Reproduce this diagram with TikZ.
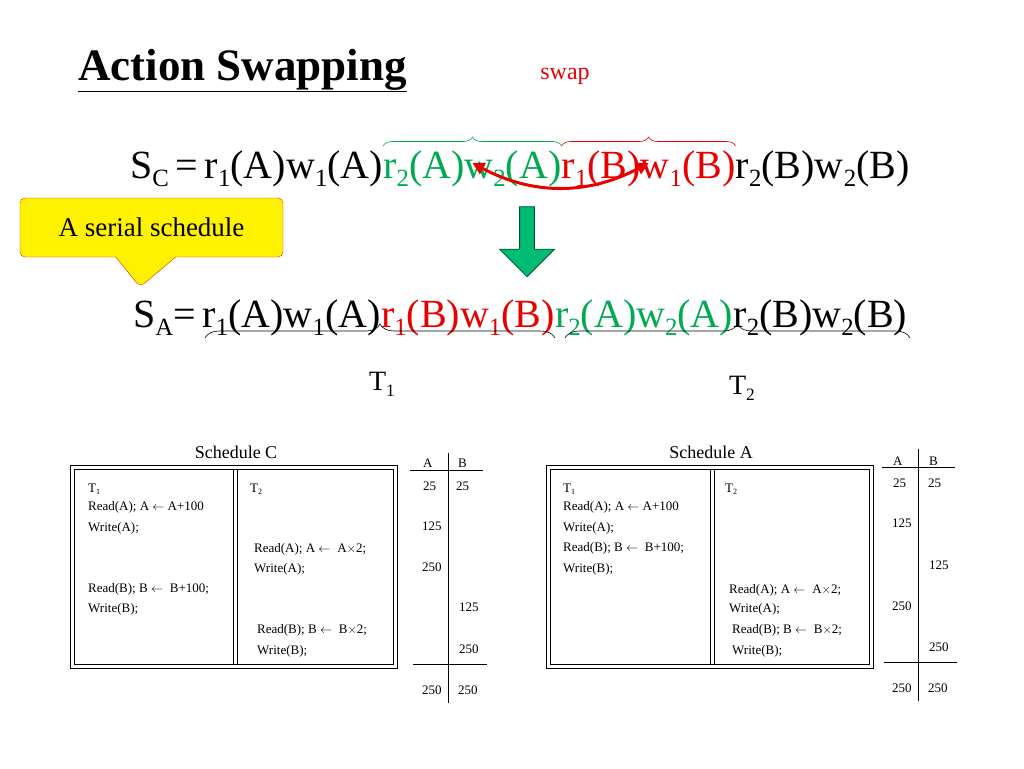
\documentclass[tikz,border=0pt]{standalone}
\usepackage{fontspec}
\setmainfont{Liberation Serif}
\usetikzlibrary{arrows.meta,decorations.pathreplacing,shapes.arrows,shapes.callouts}
\newcommand\sbx[1]{\raisebox{-0.22em}{\scalebox{0.62}{#1}}}
\definecolor{gr}{RGB}{0,170,80}
\definecolor{rd}{RGB}{230,0,0}
\begin{document}
\begin{tikzpicture}[x=1pt,y=-1pt,
  big/.style={inner sep=0pt,anchor=base west,font=\fontsize{40}{44}\selectfont},
  tx/.style={inner sep=0pt,anchor=base west,font=\fontsize{13}{15}\selectfont},
  frame/.style={draw,line width=0.7pt},
  brc/.style={decorate,decoration={brace,amplitude=9pt},line width=0.6pt}]
\useasboundingbox (0,0) rectangle (1024,768);
% title
\node[inner sep=0pt,anchor=base west,font=\fontsize{45}{48}\selectfont\bfseries] (title) at (78,80) {\underline{Action Swapping}};
\node[inner sep=0pt,font=\fontsize{24}{26}\selectfont,text=rd] (swap) at (565,76) {swap};
% row C
\node[big] (c1) at (130,178) {S\sbx{C}\,=\,r\sbx{1}(A)w\sbx{1}(A)};
\node[big,text=gr] (c2) at (c1.base east) {r\sbx{2}(A)w\sbx{2}(A)};
\node[big,text=rd] (c3) at (c2.base east) {r\sbx{1}(B)w\sbx{1}(B)};
\node[big] (c4) at (c3.base east) {r\sbx{2}(B)w\sbx{2}(B)};
\draw[brc,draw=gr] (c2.base west |- 0,146) -- (c2.base east |- 0,146) coordinate[midway,yshift=-14pt] (gm);
\draw[brc,draw=rd] (c3.base west |- 0,146) -- (c3.base east |- 0,146) coordinate[midway,yshift=-14pt] (rm);
\draw[rd,line width=3pt,{Triangle[length=12pt,width=12pt]}-{Triangle[length=12pt,width=12pt]}] ([yshift=-3pt]gm) to[bend right=28] ([yshift=-3pt]rm);
% callout
\node[rectangle callout,callout absolute pointer={(140,287)},callout pointer width=60pt,fill=yellow,draw=rd!70!orange,rounded corners=5pt,
  minimum width=263pt,minimum height=59pt,font=\fontsize{27}{29}\selectfont] (call) at (151.5,227.5) {A serial schedule};
% green arrow
\node[single arrow,shape border rotate=270,fill=gr!80!cyan,draw=gr!50!black,line width=0.8pt,
  minimum width=55pt,single arrow head extend=12pt,minimum height=70pt,single arrow head indent=0pt,inner sep=4pt] (garr) at (527,238) {};
% row A
\node[big] (a1) at (133,327) {S\sbx{A}=\,r\sbx{1}(A)w\sbx{1}(A)};
\node[big,text=rd] (a2) at (a1.base east) {r\sbx{1}(B)w\sbx{1}(B)};
\node[big,text=gr] (a3) at (a2.base east) {r\sbx{2}(A)w\sbx{2}(A)};
\node[big] (a4) at (a3.base east) {r\sbx{2}(B)w\sbx{2}(B)};
\draw[brc,decoration={amplitude=14pt}] (205,338) -- (555,338) coordinate[midway] (b1);
\draw[brc,decoration={amplitude=14pt}] (565,338) -- (910,338) coordinate[midway] (b2);
\node[inner sep=0pt,font=\fontsize{28}{30}\selectfont] (t1) at (382,384) {T\sbx{1}};
\node[inner sep=0pt,font=\fontsize{28}{30}\selectfont] (t2) at (742,388) {T\sbx{2}};
% Schedule C
\node[inner sep=0pt,font=\fontsize{18}{20}\selectfont] (sc) at (236,452) {Schedule C};
\draw[frame] (70,465) rectangle (397,668);
\draw[frame] (74,469) rectangle (393,664);
\draw[frame] (233,469) -- (233,664) (237,469) -- (237,664);
\node[tx] (ct1) at (88,492) {T\sbx{1}};
\node[tx] (ct2) at (250,492) {T\sbx{2}};
\node[tx] (cl1) at (88,510) {Read(A); A $\leftarrow$ A+100};
\node[tx] (cl2) at (88,531) {Write(A);};
\node[tx] (cl3) at (254,552) {Read(A); A $\leftarrow$\; A$\times$2;};
\node[tx] (cl4) at (254,572) {Write(A);};
\node[tx] (cl5) at (88,592) {Read(B); B $\leftarrow$\; B+100;};
\node[tx] (cl6) at (88,612) {Write(B);};
\node[tx] (cl7) at (257,633) {Read(B); B $\leftarrow$\; B$\times$2;};
\node[tx] (cl8) at (257,654) {Write(B);};
\draw[line width=0.7pt] (448,453) coordinate (cv1) -- (448,703) coordinate (cv2);
\draw[line width=0.7pt] (410,470) coordinate (ch1) -- (483,470) coordinate (ch2);
\draw[line width=0.7pt] (413,664) coordinate (ch3) -- (487,664) coordinate (ch4);
\node[tx] (cA) at (423,467) {A};
\node[tx] (cB) at (458,467) {B};
\node[tx] (c25a) at (423,490) {25};
\node[tx] (c25b) at (456,490) {25};
\node[tx] (c125a) at (422,530) {125};
\node[tx] (c250a) at (422,571) {250};
\node[tx] (c125b) at (459,611) {125};
\node[tx] (c250b) at (459,653) {250};
\node[tx] (cfa) at (422,694) {250};
\node[tx] (cfb) at (458,694) {250};
% Schedule A
\node[inner sep=0pt,font=\fontsize{18}{20}\selectfont] (sa) at (711,452) {Schedule A};
\draw[frame] (546,465) rectangle (873,668);
\draw[frame] (550,469) rectangle (869,664);
\draw[frame] (710,469) -- (710,664) (714,469) -- (714,664);
\node[tx] (at1) at (563,492) {T\sbx{1}};
\node[tx] (at2) at (725,492) {T\sbx{2}};
\node[tx] (al1) at (563,510) {Read(A); A $\leftarrow$ A+100};
\node[tx] (al2) at (563,531) {Write(A);};
\node[tx] (al3) at (563,551) {Read(B); B $\leftarrow$\; B+100;};
\node[tx] (al4) at (563,572) {Write(B);};
\node[tx] (al5) at (729,593) {Read(A); A $\leftarrow$\; A$\times$2;};
\node[tx] (al6) at (729,612) {Write(A);};
\node[tx] (al7) at (732,633) {Read(B); B $\leftarrow$\; B$\times$2;};
\node[tx] (al8) at (732,654) {Write(B);};
\draw[line width=0.7pt] (918,449) coordinate (av1) -- (918,701) coordinate (av2);
\draw[line width=0.7pt] (882,467) coordinate (ah1) -- (955,467) coordinate (ah2);
\draw[line width=0.7pt] (884,662) coordinate (ah3) -- (957,662) coordinate (ah4);
\node[tx] (aA) at (893,465) {A};
\node[tx] (aB) at (929,465) {B};
\node[tx] (a25a) at (893,487) {25};
\node[tx] (a25b) at (928,487) {25};
\node[tx] (a125a) at (892,527) {125};
\node[tx] (a125b) at (929,569) {125};
\node[tx] (a250a) at (892,610) {250};
\node[tx] (a250b) at (929,651) {250};
\node[tx] (afa) at (892,692) {250};
\node[tx] (afb) at (928,692) {250};
\end{tikzpicture}
\end{document}
